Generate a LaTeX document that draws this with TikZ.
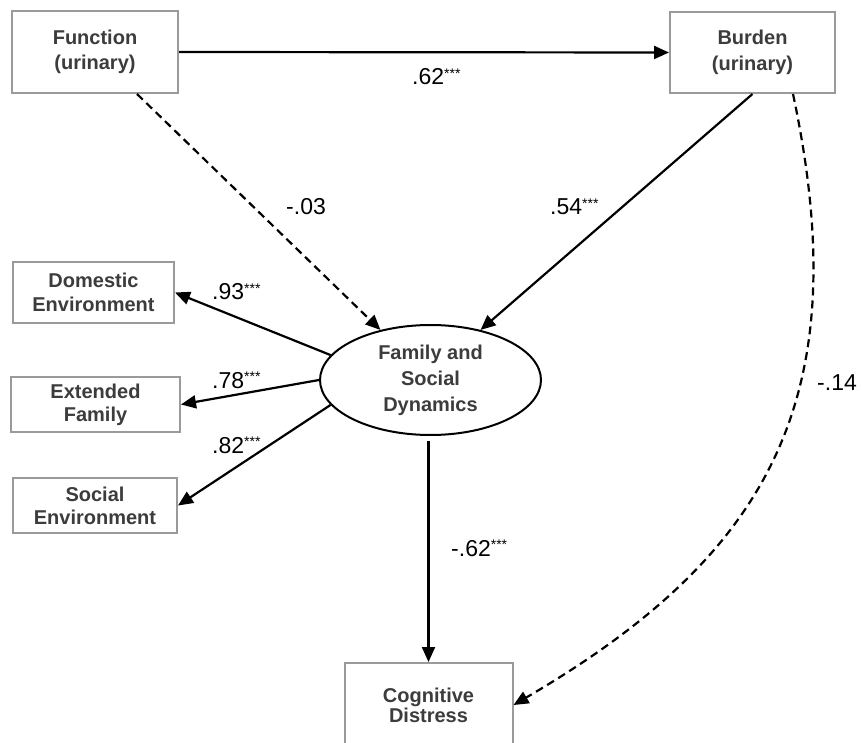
\documentclass[tikz,border=0pt]{standalone}
\usepackage{fontspec}
\setmainfont{Liberation Sans}
\usetikzlibrary{arrows.meta,shapes.geometric}
\definecolor{boxgray}{HTML}{9A9A9A}
\definecolor{txtgray}{HTML}{3C3C3C}
% significance marks set above the coefficient
\newcommand\sigstars{\raisebox{6.5pt}{\fontsize{14}{14}\selectfont ***}}
\begin{document}
\begin{tikzpicture}[x=1pt,y=-1pt,
  varbox/.style={draw=boxgray,line width=2pt,fill=white,inner sep=0pt,
    align=center,text=txtgray,font=\fontsize{20}{#1}\selectfont\bfseries},
  latent/.style={ellipse,draw=black,line width=2pt,inner sep=0pt,
    minimum width=221pt,minimum height=110pt,align=center,text=txtgray,
    font=\fontsize{20}{26}\selectfont\bfseries},
  link/.style={line width=2.2pt,-{Triangle[length=15pt,width=13pt]}},
  dashlink/.style={link,dash pattern=on 8pt off 5pt},
  coef/.style={anchor=base west,inner sep=0pt,font=\fontsize{23}{23}\selectfont}]
\useasboundingbox (0,0) rectangle (862,743);

% observed and latent variables
\node[varbox=25.5,minimum width=166pt,minimum height=82pt] (fun) at (95,52) {Function\\(urinary)};
\node[varbox=25.5,minimum width=165pt,minimum height=81pt] (bur) at (752.5,52.5) {Burden\\(urinary)};
\node[varbox=24,minimum width=161pt,minimum height=61pt] (dom) at (93.5,292.5) {Domestic\\Environment};
\node[varbox=23,minimum width=169pt,minimum height=55pt] (ext) at (95.5,404.5) {Extended\\Family};
\node[varbox=23,minimum width=164pt,minimum height=55pt] (soc) at (95,505.5) {Social\\Environment};
\node[latent] (fsd) at (430.5,380) {Family and\\Social\\Dynamics};
\node[varbox=20,minimum width=168pt,minimum height=84pt] (cog) at (428.5,705) {Cognitive\\Distress};

\coordinate (fsdbot) at ([yshift=-5pt]fsd.south);

% paths
\draw[link] (fun.east) -- (bur.west);
\draw[dashlink] ([xshift=42pt]fun.south) -- (fsd.135);
\draw[link] (bur.south) -- (fsd.45);
\draw[link] (fsd.166) -- (dom.east);
\draw[link] (fsd.180) -- (ext.east);
\draw[link] (fsd.194) -- (soc.east);
\draw[link] (cog.north |- fsdbot) -- (cog.north);
\draw[dashlink] ([xshift=40.5pt]bur.south) .. controls (858,400) and (768,556) .. (cog.east);

% path coefficients
\node[coef] (c62) at (412,85) {.62\sigstars};
\node[coef] (c03) at (286,215) {-.03};
\node[coef] (c54) at (550,215) {.54\sigstars};
\node[coef] (c93) at (212,300) {.93\sigstars};
\node[coef] (c78) at (212,388) {.78\sigstars};
\node[coef] (c82) at (212,453) {.82\sigstars};
\node[coef] (cm62) at (451,556) {-.62\sigstars};
\node[coef] (c14) at (817,390) {-.14};
\end{tikzpicture}
\end{document}
